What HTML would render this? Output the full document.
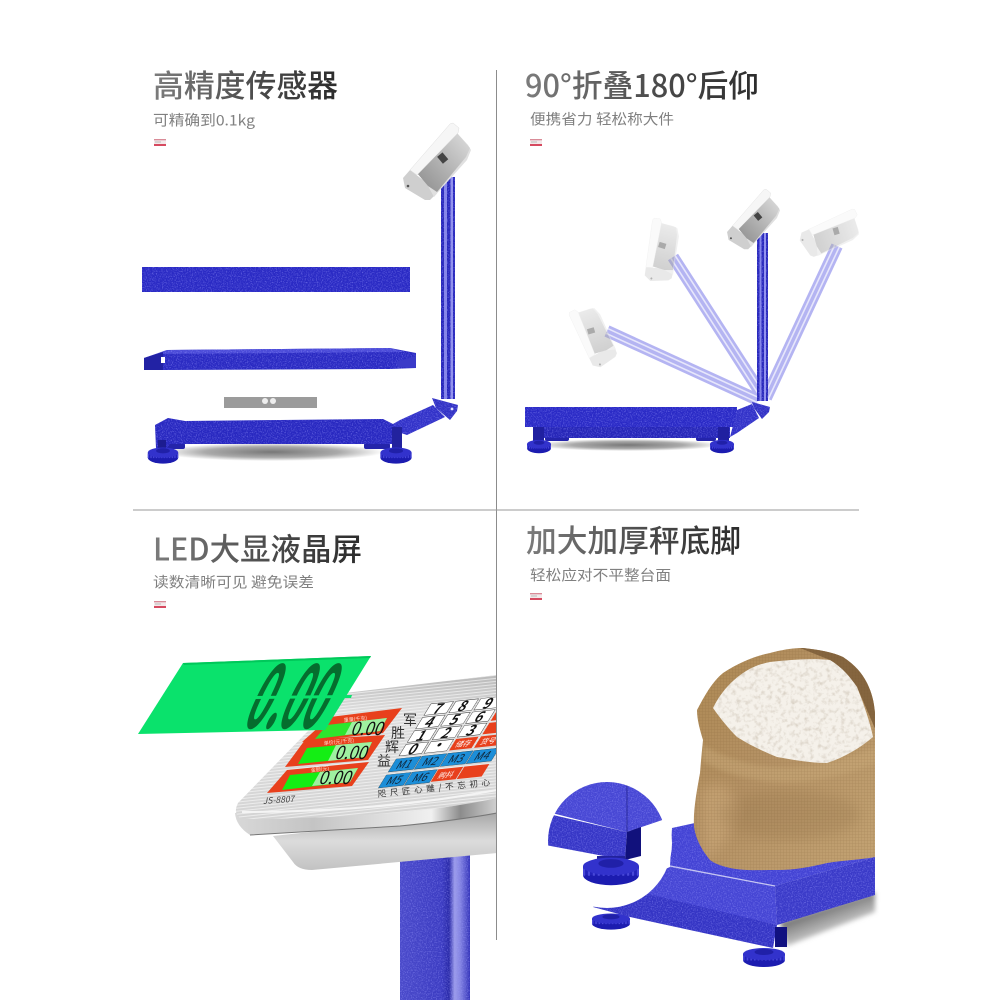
<!DOCTYPE html>
<html lang="zh"><head><meta charset="utf-8"><style>
html,body{margin:0;padding:0;background:#fff}
svg{display:block}
text{font-family:"Noto Sans CJK SC","Liberation Sans",sans-serif}
.s{fill:#808080;font-size:14.5px}
.t{font-weight:500;font-size:31px}
</style></head><body>
<svg width="1000" height="1000" viewBox="0 0 1000 1000" xmlns="http://www.w3.org/2000/svg">
<defs>
<linearGradient id="tg"><stop offset="0" stop-color="#7c7c7c"/><stop offset=".55" stop-color="#4c4c4c"/><stop offset="1" stop-color="#2c2c2c"/></linearGradient>
<linearGradient id="hd" x1="0" y1="1" x2="1" y2="0"><stop offset="0" stop-color="#8c8c8c"/><stop offset=".45" stop-color="#b0b0b0"/><stop offset="1" stop-color="#dedede"/></linearGradient>
<linearGradient id="pole"><stop offset="0" stop-color="#4a4aca"/><stop offset=".6" stop-color="#3c3cc2"/><stop offset=".7" stop-color="#2a2aa8"/><stop offset=".78" stop-color="#9c9cea"/><stop offset=".86" stop-color="#8484e2"/><stop offset="1" stop-color="#3434ba"/></linearGradient>
<linearGradient id="rim" x1="0" y1="0" x2="1" y2="0"><stop offset="0" stop-color="#d8d8d8"/><stop offset=".3" stop-color="#c4c4c4"/><stop offset=".75" stop-color="#f0f0f0"/><stop offset=".86" stop-color="#8c8c8c"/><stop offset="1" stop-color="#d0d0d0"/></linearGradient>
<linearGradient id="body" x1="0" y1="0" x2="0" y2="1"><stop offset="0" stop-color="#a5a5a5"/><stop offset=".5" stop-color="#dcdcdc"/><stop offset="1" stop-color="#c2c2c2"/></linearGradient>
<linearGradient id="face" x1="0" y1="0" x2="0" y2="1"><stop offset="0" stop-color="#b8b8b8"/><stop offset=".25" stop-color="#dedede"/><stop offset="1" stop-color="#d4d4d4"/></linearGradient>
<linearGradient id="sackg" x1="0" y1="0" x2="1" y2="1"><stop offset="0" stop-color="#ad8852"/><stop offset=".45" stop-color="#b59265"/><stop offset="1" stop-color="#c4a474"/></linearGradient>
<linearGradient id="shr" gradientUnits="userSpaceOnUse" x1="825" y1="905" x2="840" y2="945"><stop offset="0" stop-color="#6e6e6e"/><stop offset="1" stop-color="#fff"/></linearGradient>
<radialGradient id="sh"><stop offset="0" stop-color="#777"/><stop offset=".6" stop-color="#aaa"/><stop offset="1" stop-color="#fff"/></radialGradient>
<filter id="speck" x="0" y="0" width="100%" height="100%" color-interpolation-filters="sRGB"><feTurbulence type="fractalNoise" baseFrequency=".8" numOctaves="2" seed="3" result="n"/><feColorMatrix in="n" type="matrix" values="0 0 0 0 .62 0 0 0 0 .62 0 0 0 0 1 1.3 0 0 0 -.6" result="w"/><feComposite in="w" in2="SourceAlpha" operator="in" result="c"/><feMerge><feMergeNode in="SourceGraphic"/><feMergeNode in="c"/></feMerge></filter>
<filter id="rice" x="0" y="0" width="100%" height="100%" color-interpolation-filters="sRGB"><feTurbulence type="fractalNoise" baseFrequency=".22" numOctaves="3" seed="8"/><feColorMatrix type="matrix" values="0 0 0 0 .72 0 0 0 0 .67 0 0 0 0 .6 1.1 0 0 0 -.52" result="w"/><feComposite in="w" in2="SourceAlpha" operator="in" result="c"/><feMerge><feMergeNode in="SourceGraphic"/><feMergeNode in="c"/></feMerge></filter>
<filter id="blur"><feGaussianBlur stdDeviation="2.5"/></filter>
<filter id="blur2"><feGaussianBlur stdDeviation="6"/></filter>
<pattern id="burlap" width="3" height="3" patternUnits="userSpaceOnUse"><path d="M0 0h3M0 0v3" stroke="#6f5029" stroke-opacity=".24" stroke-width=".8" fill="none"/></pattern>
<pattern id="brush" width="4" height="3" patternUnits="userSpaceOnUse" patternTransform="rotate(-6)"><path d="M0 .5h4" stroke="#fff" stroke-opacity=".55" stroke-width="1"/></pattern>
<clipPath id="cl"><rect x="0" y="0" width="496" height="1000"/></clipPath>
<clipPath id="cap"><circle cx="607" cy="841" r="59"/></clipPath>
<clipPath id="sk"><path d="M697 710 C705 695 712 682 723 673 C740 662 755 656 770 653 C785 649 795 648 803 648 C820 650 832 652 843 657 C855 665 862 673 867 683 C872 693 874 702 875 713 L875 857 C860 860 845 860 827 863 C810 867 795 870 777 870 C760 870 745 871 730 868 C722 866 715 864 710 860 C702 850 696 840 694 827 C693 810 697 790 700 773 C701 760 702 750 703 740 C700 730 697 720 697 710 Z"/></clipPath>
<g id="tag"><rect width="12" height="7" fill="#f3e9ea"/><rect width="12" height="1.3" fill="#d98c98"/><rect y="5" width="12" height="2" fill="#d64a60"/><rect x="1" y="2.5" width="6" height="1" fill="#bbb"/></g>
<g id="head">
<polygon points="403,178 410,170 432,187 438,187 437,193 430,200 425,200 405,188" fill="#cfcfcf"/>
<polygon points="417,173 457,133 468,145 471,150 467,160 440,190 434,197 428,186" fill="#e0e0e0"/>
<polygon points="417,173 457,133 470,148 466,157 437,192 428,186" fill="url(#hd)"/>
<polygon points="410,170 450,124 453,123 459,128 458,133 417,175" fill="#f6f6f6" stroke="#ddd" stroke-width=".5"/>
<rect x="439" y="154" width="7" height="9" fill="#444" transform="rotate(-40 442 158)"/>
<circle cx="408" cy="186" r="1.3" fill="#555"/>
</g>
<g id="knob"><ellipse cx="0" cy="9" rx="20" ry="7" fill="#1c1cb0"/><rect x="-20" y="3" width="40" height="6" fill="#2222ba"/><line x1="-20" y1="7" x2="20" y2="7" stroke="#4848d8" stroke-width="5" stroke-dasharray="1.5 2"/><ellipse cx="0" cy="3" rx="20" ry="6" fill="#3232cc"/><ellipse cx="0" cy="1" rx="9" ry="3" fill="#2020a8"/></g>
</defs>
<rect width="1000" height="1000" fill="#fff"/>

<!-- dividers -->
<rect x="496" y="70" width="1" height="870" fill="#8c8c8c"/>
<rect x="133" y="509.5" width="726" height="1" fill="#9a9a9a"/>

<!-- Panel 1 -->
<text x="153" y="97" class="t" fill="url(#tg)" textLength="185" lengthAdjust="spacingAndGlyphs">高精度传感器</text>
<text x="153" y="125.500" class="s" textLength="102" lengthAdjust="spacingAndGlyphs">可精确到0.1kg</text>
<use href="#tag" x="154" y="139"/>
<ellipse cx="272" cy="452" rx="112" ry="9" fill="url(#sh)"/>
<rect x="163" y="443" width="22" height="6" rx="2" fill="#2424aa"/><rect x="364" y="443" width="26" height="6" rx="2" fill="#2424aa"/>
<g filter="url(#speck)">
<rect x="142" y="267" width="268" height="25" fill="#2a2ac4"/>
<polygon points="144,370 144,358 167,350 390,348 416,353 416,368 390,369 165,370" fill="#2a2ac2"/>
<polygon points="167,350 390,348 404,352 156,354" fill="#4a4ad8"/>
<polygon points="155,425 168,418 185,421 383,419 393,424 402,428 402,444 170,444 165,450 156,448" fill="#2828c0"/>
<polygon points="393,424 400,420 433,405 445,417 407,435 398,432" fill="#3232c8"/>
<rect x="441" y="177" width="14" height="222" fill="#2828bc"/>
<rect x="444" y="177" width="3" height="222" fill="#8484e8"/>
<rect x="450.5" y="177" width="2.5" height="222" fill="#9292ec"/>
<polygon points="432,398 458,405 457,411 450,420 436,408" fill="#3232c4"/>
</g>
<circle cx="452" cy="409" r="1.4" fill="#dfe0ff"/>
<polygon points="144,370 144,358 163,352 163,370" fill="#2222a4"/>
<rect x="161" y="357" width="4" height="6" fill="#fff"/>
<polygon points="416,368 416,356 396,362 398,367" fill="#3a3ac8"/>
<rect x="224" y="397" width="93" height="11" fill="#9b9b9b"/>
<circle cx="265" cy="401" r="3" fill="#eee"/><circle cx="273" cy="401" r="3" fill="#eee"/>
<rect x="158" y="440" width="8" height="10" fill="#1c1c90"/><rect x="392" y="427" width="10" height="24" fill="#22229e"/>
<g transform="translate(163,450) scale(.76,.85)"><use href="#knob"/></g>
<g transform="translate(396,450) scale(.78,.85)"><use href="#knob"/></g>
<use href="#head"/>

<!-- Panel 2 -->
<text x="525" y="97" class="t" fill="url(#tg)" textLength="234" lengthAdjust="spacingAndGlyphs">90°折叠180°后仰</text>
<text x="530" y="124.500" class="s" textLength="144" lengthAdjust="spacingAndGlyphs">便携省力 轻松称大件</text>
<use href="#tag" x="530" y="139"/>
<ellipse cx="628" cy="445" rx="92" ry="6" fill="url(#sh)"/>
<g stroke="#b4b4f2" stroke-width="12">
<line x1="837" y1="246" x2="766" y2="398"/>
<line x1="673" y1="257" x2="762" y2="395"/>
<line x1="607" y1="331" x2="758" y2="400"/>
</g>
<g stroke="#e6e6fb" stroke-width="1.6">
<line x1="839.3" y1="247" x2="768.3" y2="399"/><line x1="834.7" y1="245" x2="763.7" y2="397"/>
<line x1="675.1" y1="255.6" x2="764.1" y2="393.6"/><line x1="670.9" y1="258.4" x2="759.9" y2="396.4"/>
<line x1="608" y1="328.7" x2="759" y2="397.7"/><line x1="606" y1="333.3" x2="757" y2="402.3"/>
</g>
<g opacity=".45">
<use href="#head" transform="translate(658,250) rotate(-33) scale(.78) translate(-435,-160)"/>
<use href="#head" transform="translate(590,337) rotate(-66) scale(.78) translate(-435,-160)"/>
<use href="#head" transform="translate(830,230) rotate(24) scale(.78) translate(-435,-160)"/>
</g>
<rect x="545" y="436" width="24" height="5" rx="2" fill="#2424aa"/><rect x="696" y="436" width="20" height="5" rx="2" fill="#2424aa"/>
<g filter="url(#speck)">
<rect x="525" y="407" width="212" height="20" fill="#2a2ac6"/>
<rect x="543" y="427" width="187" height="11" fill="#2626b8"/>
<polygon points="737,410 752,404 759,418 737,433 730,437" fill="#3232c8"/>
<rect x="757" y="233" width="11" height="168" fill="#2828bc"/>
<rect x="759.5" y="233" width="2" height="168" fill="#8484e8"/>
<rect x="764" y="233" width="2" height="168" fill="#9292ec"/>
<polygon points="752,402 770,407 769,412 762,419 754,408" fill="#3232c4"/>
</g>
<rect x="533" y="427" width="11" height="16" fill="#2020a0"/><rect x="718" y="427" width="11" height="16" fill="#2020a0"/>
<g transform="translate(539,442) scale(.6,.7)"><use href="#knob"/></g>
<g transform="translate(722,442) scale(.6,.7)"><use href="#knob"/></g>
<use href="#head" transform="translate(752,218) scale(.78) translate(-435,-160)"/>

<!-- Panel 3 -->
<text x="153" y="560.500" class="t" fill="url(#tg)" textLength="209" lengthAdjust="spacingAndGlyphs">LED大显液晶屏</text>
<text x="153" y="587.500" class="s" textLength="161" lengthAdjust="spacingAndGlyphs">读数清晰可见 避免误差</text>
<use href="#tag" x="154" y="601"/>
<g clip-path="url(#cl)">
<rect x="400" y="855" width="70" height="145" fill="url(#pole)" filter="url(#speck)"/>
<path d="M273 836 L293 862 Q298 870 312 870 L497 853 L497 812 Z" fill="url(#body)"/>
<path d="M235 813 Q236 826 250 835 L400 826 Q460 820 497 813 L497 790 Z" fill="url(#rim)"/>
<path d="M250 835 L400 826 Q460 820 497 813" fill="none" stroke="#777" stroke-width="1"/>
<path d="M345 693 L497 675 L497 798 Q420 815 300 818 Q250 820 240 818 Q233 813 238 803 Z" fill="url(#face)"/>
<path d="M345 693 L497 675 L497 798 Q420 815 300 818 Q250 820 240 818 Q233 813 238 803 Z" fill="url(#brush)"/>
<path d="M242 812 Q380 812 497 790" fill="none" stroke="#f4f4f4" stroke-width="2"/>
<polygon points="402,708 383,733 302,742 330,717" fill="#e8401c"/>
<polygon points="385,735 368,760 285,767 305,740" fill="#e8401c"/>
<polygon points="369,762 352,786 267,793 287,770" fill="#e8401c"/>
<polygon points="327,725 387,718 380,731 315,739" fill="#2ee62e"/>
<polygon points="352,722 387,718 380,731 345,735" fill="#9ff0a0"/>
<polygon points="307,748 372,742 365,757 298,764" fill="#14ee14"/>
<polygon points="336,745 372,742 365,757 328,761" fill="#9ff0a0"/>
<polygon points="290,775 358,768 350,782 282,790" fill="#14ee14"/>
<polygon points="320,772 358,768 350,782 312,786" fill="#9ff0a0"/>
<g fill="#111" font-size="18">
<text transform="translate(350,735) skewX(-20)" textLength="32" lengthAdjust="spacingAndGlyphs" font-family="Liberation Sans">0.00</text>
<text transform="translate(334,759) skewX(-20)" textLength="32" lengthAdjust="spacingAndGlyphs" font-family="Liberation Sans">0.00</text>
<text transform="translate(318,784) skewX(-20)" textLength="32" lengthAdjust="spacingAndGlyphs" font-family="Liberation Sans">0.00</text>
</g>
<g font-size="5" fill="#ffd9cc">
<text x="344" y="722" transform="rotate(-6 344 722)">重量(千克)</text>
<text x="324" y="745" transform="rotate(-6 324 745)">单价(元/千克)</text>
<text x="311" y="772" transform="rotate(-6 311 772)">金额(元)</text>
</g>
<text x="263" y="804" font-size="8.5" font-style="italic" fill="#444" transform="rotate(-4 263 804)" font-family="Liberation Sans">JS-8807</text>
<g font-family="'Noto Serif CJK SC',serif" font-size="14" fill="#333">
<text x="403" y="725">军</text><text x="391" y="738">胜</text><text x="385" y="752">辉</text><text x="377" y="766">益</text>
</g>
<g transform="matrix(1,-.107,-.615,1,430,704)" font-size="14" font-weight="bold" font-family="Liberation Sans" text-anchor="middle">
<g fill="#fff" stroke="#333" stroke-width=".5">
<rect x="1" y="0" width="22.5" height="11.5"/><rect x="26" y="0" width="22.5" height="11.5"/><rect x="51" y="0" width="22.5" height="11.5"/>
<rect x="1" y="13.5" width="22.5" height="11.5"/><rect x="26" y="13.5" width="22.5" height="11.5"/><rect x="51" y="13.5" width="22.5" height="11.5"/>
<rect x="1" y="27" width="22.5" height="11.5"/><rect x="26" y="27" width="22.5" height="11.5"/><rect x="51" y="27" width="22.5" height="11.5"/>
<rect x="1" y="40.5" width="22.5" height="11.5"/><rect x="26" y="40.5" width="22.5" height="11.5"/>
</g>
<g fill="#e8401c">
<rect x="76" y="13.5" width="22" height="11.5"/><rect x="76" y="27" width="22" height="11.5"/>
<rect x="51" y="40.5" width="22.5" height="11.5"/><rect x="76" y="40.5" width="22" height="11.5"/>
<rect x="52" y="71" width="25" height="12.5"/><rect x="78" y="71" width="25" height="12.5"/>
</g>
<g fill="#1c8ed8" stroke="#245" stroke-width=".4">
<rect x="0" y="55" width="25" height="13"/><rect x="26" y="55" width="25" height="13"/><rect x="52" y="55" width="25" height="13"/><rect x="78" y="55" width="25" height="13"/>
<rect x="0" y="71" width="25" height="13"/><rect x="26" y="71" width="25" height="13"/>
</g>
<g fill="#111">
<text x="12" y="11">7</text><text x="37" y="11">8</text><text x="62" y="11">9</text>
<text x="12" y="24.5">4</text><text x="37" y="24.5">5</text><text x="62" y="24.5">6</text>
<text x="12" y="38">1</text><text x="37" y="38">2</text><text x="62" y="38">3</text>
<text x="12" y="51.5">0</text><text x="37" y="50">•</text>
</g>
<g font-size="11" font-weight="normal" fill="#123">
<text x="12.5" y="65.5">M1</text><text x="38.5" y="65.5">M2</text><text x="64.5" y="65.5">M3</text><text x="90.5" y="65.5">M4</text>
<text x="12.5" y="81.5">M5</text><text x="38.5" y="81.5">M6</text>
</g>
<g font-size="7.5" font-weight="normal" fill="#fff" font-family="Noto Sans CJK SC">
<text x="62" y="49">储存</text><text x="87" y="49">货号</text><text x="64" y="80.5">购抖</text>
</g>
</g>
<text x="378" y="797" font-size="8.5" fill="#333" transform="rotate(-6 378 797)" font-family="'Noto Serif CJK SC',serif" textLength="113">咫尺匠心雕/不忘初心</text>
</g>
<polygon points="183,663 371,656 325,730 138,734" fill="#0ae26c"/>
<polygon points="183,663 371,656 370,658 184,665" fill="#00c85a"/>
<text font-size="86" font-weight="bold" fill="#056d2e" transform="translate(240,728) skewX(-26)" textLength="78" lengthAdjust="spacingAndGlyphs" font-family="Liberation Sans">0.00</text>
<polygon points="250,696 352,695 351,698 249,699" fill="#0ae26c"/>

<!-- Panel 4 -->
<text x="526" y="552" class="t" fill="url(#tg)" textLength="215" lengthAdjust="spacingAndGlyphs">加大加厚秤底脚</text>
<text x="530" y="580.500" class="s" textLength="141" lengthAdjust="spacingAndGlyphs">轻松应对不平整台面</text>
<use href="#tag" x="530" y="593"/>
<polygon points="787,946 875,912 875,892 780,922" fill="url(#shr)" filter="url(#blur)"/>
<g transform="translate(611,916)"><use href="#knob" transform="scale(.95,.85)"/></g>
<g filter="url(#speck)">
<polygon points="672,828 695,823 875,857 775,886 670,867" fill="#4343d4"/>
<polygon points="670,867 775,886 777,925 640,895 593,907 640,880" fill="#4545d4"/>
<polygon points="593,907 640,892 777,925 773,948 630,917" fill="#3434c4"/>
<polygon points="775,886 875,857 875,895 777,925" fill="#3a3ac8"/>
</g>
<line x1="670" y1="866" x2="775" y2="886" stroke="#c6c6f2" stroke-width="1.2"/>
<rect x="775" y="927" width="12" height="20" fill="#111180"/>
<g transform="translate(764,951)"><use href="#knob" transform="scale(1.05,1)"/></g>
<circle cx="607" cy="843" r="65" fill="#fff"/>
<g clip-path="url(#cap)"><g filter="url(#speck)">
<polygon points="540,770 680,770 680,814 627,832 548,812" fill="#4747d4"/>
<polygon points="540,812 627,832 625,860 540,844" fill="#3636c6"/>
</g>
<line x1="627" y1="785" x2="627" y2="832" stroke="#2a2a9c"/>
</g>
<polygon points="627,832 641,827 641,856 625,860" fill="#11117c"/>
<g transform="translate(611,862)"><rect x="-14" y="-6" width="28" height="8" fill="#22229c"/><use href="#knob" transform="scale(1.4,1.45)"/></g>
<g clip-path="url(#sk)">
<rect x="690" y="645" width="190" height="230" fill="url(#sackg)"/>
<polygon points="800,648 880,648 880,740 857,687 830,660" fill="#85653f"/>
<path d="M700 790 Q725 770 740 810 Q725 850 705 860 Z" fill="#d0ae80" opacity=".5" filter="url(#blur2)"/>
<ellipse cx="790" cy="815" rx="70" ry="24" fill="#8a6a42" opacity=".22" filter="url(#blur2)"/>
<path d="M703 745 Q780 790 880 745 L880 762 Q780 802 703 762 Z" fill="#c8a878" opacity=".55" filter="url(#blur)"/>
<rect x="690" y="645" width="190" height="230" fill="url(#burlap)"/>
</g>
<path d="M713 708 C722 690 733 680 743 673 C752 667 760 664 770 662 C790 660 810 658 830 660 C843 668 850 677 857 687 C864 705 870 722 873 737 C860 748 845 757 827 763 C810 763 795 760 777 757 C762 751 750 745 737 737 C728 728 720 718 713 708 Z" fill="#f5f1ea" filter="url(#rice)"/>
</svg>
</body></html>
